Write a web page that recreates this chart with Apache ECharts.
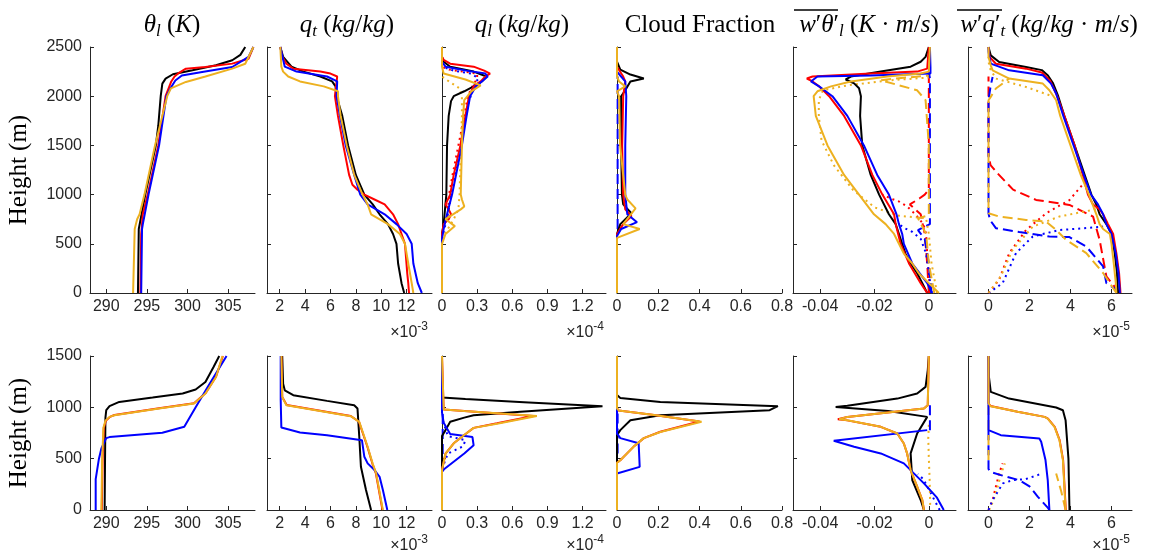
<!DOCTYPE html>
<html>
<head>
<meta charset="utf-8">
<title>LES profiles</title>
<script src="https://cdn.jsdelivr.net/npm/echarts@6/dist/echarts.min.js"></script>
<style>
  html, body { margin: 0; padding: 0; background: #fff; }
  #chart { width: 1155px; height: 556px; }
</style>
</head>
<body>
<div id="chart"></div>
<script>
// every curve is a list of [value, height (m)]

// ---- top row : theta_l ----
const thlTopBlack = [[293.9,0],[294.0,650],[294.8,1000],[296.1,1500],[296.4,1700],[296.7,2000],[296.9,2128],[297.3,2179],[298.2,2223],[300.6,2263],[303.5,2314],[305.5,2365],[306.5,2420],[307.1,2500]];
const thlTopRed = [[294.2,0],[294.3,600],[294.5,800],[295.1,1000],[296.4,1500],[297.3,2000],[298.0,2150],[298.4,2200],[299.0,2240],[299.8,2280],[302.2,2297],[305.5,2331],[307.5,2380],[308.1,2500]];
const thlTopBlue = [[294.3,0],[294.4,650],[294.5,700],[295.2,1000],[296.5,1500],[297.4,2000],[297.9,2080],[298.5,2160],[299.3,2210],[301.8,2246],[305.5,2297],[307.5,2400],[308.1,2500]];
const thlTopOrange = [[293.3,0],[293.5,650],[293.8,750],[294.1,800],[294.7,1000],[296.0,1500],[296.9,1800],[297.5,2000],[297.95,2080],[299.8,2145],[302.2,2200],[305.5,2280],[307.1,2330],[308.1,2500]];

// ---- top row : q_t (x 1e-3) ----
const qtTopBlack = [[11.81,0],[11.6,100],[11.33,300],[11.2,500],[10.93,600],[10.53,700],[9.87,800],[9.33,900],[8.67,1000],[8.0,1200],[7.39,1500],[6.93,1800],[6.48,2000],[6.4,2100],[6.13,2150],[5.2,2200],[3.87,2250],[2.93,2300],[2.27,2400],[2.05,2500]];
const qtTopRed = [[12.19,0],[12.13,100],[12.05,200],[11.87,500],[11.6,600],[11.33,700],[10.93,800],[10.27,900],[9.47,950],[8.67,1000],[8.13,1050],[7.73,1100],[7.47,1200],[7.01,1500],[6.59,1800],[6.35,2000],[6.53,2200],[6.0,2230],[5.2,2250],[3.07,2280],[2.53,2330],[2.21,2400],[2.05,2500]];
const qtTopBlue = [[13.2,0],[12.88,100],[12.53,300],[12.4,500],[12.0,600],[11.2,700],[10.27,800],[8.93,900],[8.35,1000],[7.87,1200],[7.2,1500],[6.75,1800],[6.48,2000],[6.53,2150],[5.73,2200],[3.33,2250],[2.4,2300],[2.05,2500]];
const qtTopOrange = [[12.53,0],[12.4,100],[12.13,300],[11.87,500],[11.47,600],[10.53,700],[9.2,800],[8.93,900],[8.53,1000],[7.87,1200],[7.28,1500],[6.8,1800],[6.59,2000],[6.59,2050],[5.47,2100],[3.6,2150],[2.67,2200],[2.27,2250],[2.13,2300],[2.05,2500]];

// ---- top row : q_l (x 1e-4) ----
const qlTopBlack = [[0,0],[0,600],[0.014,700],[0.037,1000],[0.043,1500],[0.057,1800],[0.077,1950],[0.1,2000],[0.19,2050],[0.27,2100],[0.34,2150],[0.38,2200],[0.27,2250],[0.07,2300],[0.014,2350],[0,2400],[0,2500]];
const qlTopRed = [[0,0],[0,600],[0.014,700],[0.057,750],[0.077,800],[0.057,850],[0.03,900],[0.07,1000],[0.1,1200],[0.157,1500],[0.2,1800],[0.23,2000],[0.27,2100],[0.33,2150],[0.37,2200],[0.41,2230],[0.36,2260],[0.27,2300],[0.07,2330],[0.014,2370],[0,2400],[0,2500]];
const qlTopBlue = [[0,0],[0,550],[0.014,650],[0.043,800],[0.086,1000],[0.12,1200],[0.17,1500],[0.21,1800],[0.24,2000],[0.29,2100],[0.34,2150],[0.39,2200],[0.37,2230],[0.21,2260],[0.03,2300],[0,2350],[0,2500]];
const qlTopOrange = [[0,0],[0,500],[0.03,600],[0.11,680],[0.03,750],[0.16,850],[0.19,880],[0.17,950],[0.16,1000],[0.17,1500],[0.18,1800],[0.19,1960],[0.25,2050],[0.33,2110],[0.2,2170],[0.014,2230],[0,2300],[0,2500]];
const qlTopRedDot = [[0,600],[0.02,700],[0.05,800],[0.06,1000],[0.09,1200],[0.14,1500],[0.19,1800],[0.22,2000],[0.26,2100],[0.3,2180],[0.3,2230],[0.18,2250],[0.06,2270],[0,2300]];
const qlTopBlueDot = [[0,550],[0.02,650],[0.05,800],[0.08,1000],[0.16,1500],[0.22,1900],[0.27,2100],[0.31,2180],[0.25,2230],[0.1,2260],[0,2300]];
const qlTopOrangeDot = [[0,550],[0.05,650],[0.1,750],[0.14,850],[0.15,1000],[0.16,1500],[0.17,1800],[0.17,2000],[0.15,2080],[0.06,2150],[0,2200]];

// ---- top row : cloud fraction ----
const cfTopBlack = [[0,0],[0,600],[0.016,700],[0.07,810],[0.03,900],[0.024,1000],[0.02,1500],[0.02,2000],[0.04,2060],[0.065,2150],[0.13,2180],[0.065,2220],[0.016,2270],[0,2350],[0,2500]];
const cfTopRed = [[0,0],[0,600],[0.03,700],[0.07,780],[0.04,850],[0.03,1000],[0.025,1500],[0.03,2000],[0.04,2150],[0.03,2200],[0,2300],[0,2500]];
const cfTopBlue = [[0,0],[0,580],[0.02,650],[0.097,720],[0.05,800],[0.04,1000],[0.04,1500],[0.045,2000],[0.04,2150],[0.02,2200],[0,2250],[0,2500]];
const cfTopOrange = [[0,0],[0,560],[0.11,650],[0.03,700],[0.09,860],[0.05,950],[0.04,1000],[0.015,1500],[0.01,2000],[0,2050],[0.04,2100],[0.01,2150],[0,2200],[0,2500]];
const cfTopBlueDash = [[0.003,650],[0.003,2200]];

// ---- top row : w'theta_l' ----
const wthTopBlack = [[-0.0006,0],[-0.0024,100],[-0.0043,200],[-0.0067,300],[-0.0086,400],[-0.0098,500],[-0.011,600],[-0.0122,700],[-0.0147,800],[-0.0183,1000],[-0.0214,1200],[-0.0245,1500],[-0.0253,1800],[-0.025,2000],[-0.0257,2080],[-0.0275,2130],[-0.0306,2170],[-0.0287,2200],[-0.0177,2250],[-0.0067,2300],[-0.003,2350],[-0.0012,2400],[0,2500]];
const wthTopRed = [[-0.0006,0],[-0.003,100],[-0.0073,300],[-0.0104,500],[-0.0122,700],[-0.0128,800],[-0.0171,1000],[-0.0208,1200],[-0.025,1500],[-0.0312,1800],[-0.0367,2000],[-0.0404,2100],[-0.0428,2150],[-0.0449,2180],[-0.0428,2200],[-0.0214,2230],[-0.0043,2250],[-0.0006,2280],[0,2500]];
const wthTopBlue = [[0.0012,0],[-0.0006,100],[-0.0061,300],[-0.0092,500],[-0.0098,600],[-0.011,700],[-0.0119,800],[-0.0147,1000],[-0.019,1200],[-0.0239,1500],[-0.03,1800],[-0.0355,2000],[-0.0404,2100],[-0.0434,2150],[-0.044,2170],[-0.041,2200],[-0.0214,2210],[0.0006,2230],[0.0006,2300],[0.0004,2500]];
const wthTopOrange = [[0.0037,0],[0,100],[-0.0037,200],[-0.0061,300],[-0.0092,400],[-0.011,500],[-0.0128,600],[-0.0159,700],[-0.0202,800],[-0.0257,1000],[-0.0312,1200],[-0.0373,1500],[-0.0416,1800],[-0.0424,2000],[-0.041,2050],[-0.036,2100],[-0.0287,2150],[-0.0153,2200],[-0.003,2230],[0,2250],[0.0004,2500]];
const wthTopRedDot = [[0.0005,0],[0,200],[-0.0006,400],[-0.001,600],[-0.002,700],[-0.005,800],[-0.008,880],[-0.011,930],[-0.014,960],[-0.017,1000]];
const wthTopRedDash = [[0,0],[-0.0006,300],[-0.0015,600],[-0.003,800],[-0.007,900],[-0.0035,960],[-0.0015,1000],[0,1050],[0,2230]];
const wthTopBlueDot = [[0.001,0],[0,200],[-0.001,400],[-0.003,550],[-0.006,620],[-0.009,660],[-0.011,700]];
const wthTopBlueDash = [[0.001,0],[0,300],[-0.0015,550],[-0.004,640],[0.0004,700],[0.0004,2180],[0,2250]];
const wthTopOrangeDot = [[0.003,0],[0.001,300],[0,600],[-0.001,760],[-0.011,785],[-0.02,870],[-0.028,1050],[-0.035,1300],[-0.0395,1550],[-0.0405,1800],[-0.0405,1960],[-0.039,2060],[-0.03,2110],[-0.015,2160],[0,2190]];
const wthTopOrangeDash = [[0.002,0],[0,300],[-0.001,600],[-0.004,760],[0,790],[0,1500],[-0.0012,1960],[-0.0043,2060],[-0.0177,2162],[-0.012,2180],[0,2210]];

// ---- top row : w'q_t' (x 1e-5) ----
const wqTopBlack = [[6.32,0],[6.27,200],[6.16,400],[6.0,600],[5.75,700],[5.42,800],[5.26,900],[5.02,1000],[4.69,1200],[4.2,1500],[3.7,1800],[3.4,2000],[3.15,2130],[2.9,2210],[2.6,2265],[1.83,2297],[0.52,2348],[0.11,2415],[0,2500]];
const wqTopRed = [[6.44,0],[6.37,200],[6.24,400],[6.08,600],[5.83,700],[5.59,800],[5.42,850],[5.1,900],[4.85,1000],[4.6,1200],[4.2,1500],[3.7,1800],[3.35,2000],[3.0,2160],[2.6,2240],[1.83,2280],[0.36,2330],[0.05,2400],[0,2500]];
const wqTopBlue = [[6.41,0],[6.34,200],[6.21,400],[6.0,600],[5.75,700],[5.59,800],[5.34,900],[5.0,1000],[4.65,1200],[4.15,1500],[3.65,1800],[3.3,2027],[3.05,2128],[2.65,2213],[1.01,2263],[0.11,2331],[0,2450],[0,2500]];
const wqTopOrange = [[6.24,0],[6.21,100],[6.11,300],[6.0,500],[5.92,600],[5.59,650],[5.42,700],[5.26,800],[4.9,1000],[4.5,1200],[4.0,1500],[3.5,1800],[3.3,1959],[2.97,2061],[2.65,2128],[1.01,2179],[0.2,2263],[0.11,2314],[0,2400],[0,2500]];
const wqTopRedDash = [[6.4,0],[5.75,169],[5.42,540],[5.1,777],[3.95,895],[2.32,946],[1.2,1050],[0.44,1216],[0.1,1300],[0,1400],[0,2200]];
const wqTopBlueDash = [[6.3,0],[6.24,34],[5.75,101],[5.59,270],[4.77,473],[3.95,568],[2.97,574],[1.5,620],[0.36,659],[0.07,743],[0,810],[0,1960],[0.1,2100],[0.2,2196]];
const wqTopOrangeDash = [[6.24,0],[5.59,203],[4.77,405],[3.79,540],[3.3,640],[2.81,726],[1.83,743],[0.52,777],[0,811],[0,1959],[0.11,1993],[0.36,2078],[1.01,2179]];
const wqTopRedDot = [[0,0],[0.52,135],[1.01,405],[1.83,640],[2.81,810],[3.95,945],[4.85,1165]];
const wqTopBlueDot = [[0,0],[0.69,100],[1.34,405],[2.16,575],[3.46,640],[4.77,660],[5.59,675]];
const wqTopOrangeDot = [[0,0],[0.6,170],[1.18,440],[2.16,675],[3.46,777],[5.1,845],[5.3,860]];
const wqTopOrangeDotUp = [[2.97,2010],[1.83,2094],[0.36,2179],[0.03,2297],[0,2400]];

// ---- bottom row : theta_l ----
const thlBotBlack = [[289.8,0],[289.85,500],[289.9,900],[290.0,972],[290.4,1011],[291.6,1053],[295.7,1095],[299.4,1134],[301.0,1173],[302.2,1247],[303.2,1393],[303.9,1500]];
const thlBotRed = [[289.45,0],[289.55,500],[289.7,800],[289.95,870],[290.45,907],[291.0,925],[296.5,990],[300.8,1039],[302.2,1136],[303.5,1298],[304.35,1500]];
const thlBotBlue = [[288.7,0],[288.7,300],[288.9,400],[289.1,500],[289.4,600],[289.7,650],[290.0,700],[290.4,710],[296.9,752],[299.6,810],[301.0,1000],[302.5,1200],[304.8,1500]];
const thlBotOrange = [[289.4,0],[289.5,500],[289.65,800],[289.9,870],[290.4,907],[291.0,923],[296.5,988],[300.8,1037],[302.2,1134],[303.5,1296],[304.3,1500]];

// ---- bottom row : q_t (x 1e-3) ----
const qtBotBlack = [[9.2,0],[8.8,194],[8.4,421],[8.27,713],[8.13,988],[7.87,1020],[5.73,1063],[3.07,1118],[2.4,1166],[2.27,1231],[2.2,1500]];
const qtBotRed = [[10.1,0],[9.58,356],[9.31,450],[8.91,616],[8.25,859],[7.6,916],[2.55,1023],[2.4,1040],[2.2,1100],[2.13,1500]];
const qtBotBlue = [[10.48,0],[10.13,194],[9.87,324],[9.47,389],[8.93,454],[8.67,518],[8.48,680],[8.4,697],[5.73,729],[3.6,755],[2.13,803],[2.08,1069],[2.08,1500]];
const qtBotOrange = [[10.13,0],[9.6,356],[9.33,450],[8.93,616],[8.27,859],[7.6,914],[2.53,1021],[2.4,1037],[2.2,1100],[2.13,1500]];

// ---- bottom row : q_l (x 1e-4) ----
const qlBotBlack = [[0,0],[0,720],[0.03,778],[0.07,859],[0.19,900],[0.27,923],[0.67,956],[1.37,1011],[0.7,1050],[0.2,1080],[0,1095],[0,1500]];
const qlBotRed = [[0,0],[0,390],[0.03,550],[0.1,650],[0.19,730],[0.27,800],[0.47,845],[0.78,915],[0.19,965],[0.014,980],[0,990],[0,1500]];
const qlBotBlue = [[0,0],[0,370],[0.02,400],[0.19,550],[0.27,630],[0.26,710],[0.07,740],[0.014,850],[0,950],[0,1500]];
const qlBotOrange = [[0,0],[0,390],[0.03,550],[0.1,650],[0.19,730],[0.27,800],[0.47,840],[0.81,915],[0.19,965],[0.014,980],[0,990],[0,1500]];
const qlBotBlueDot = [[0,400],[0.05,550],[0.18,620],[0.2,680],[0.05,720],[0,900]];
const qlBotBlueDash = [[0.006,400],[0.006,1000]];

// ---- bottom row : cloud fraction ----
const cfBotBlack = [[0,0],[0,729],[0.016,778],[0.065,875],[0.21,923],[0.74,972],[0.78,1011],[0.21,1053],[0.016,1092],[0,1120],[0,1500]];
const cfBotRed = [[0,0],[0,460],[0.016,485],[0.08,615],[0.13,700],[0.21,762],[0.4,862],[0.18,925],[0.008,970],[0,990],[0,1500]];
const cfBotBlue = [[0,0],[0,355],[0.008,370],[0.11,420],[0.105,650],[0.016,700],[0,745],[0,1500]];
const cfBotOrange = [[0,0],[0,460],[0.016,485],[0.08,615],[0.13,700],[0.21,760],[0.41,860],[0.18,925],[0.008,970],[0,990],[0,1500]];
const cfBotBlueDash = [[0.003,550],[0.003,970]];

// ---- bottom row : w'theta_l' ----
const wthBotBlack = [[-0.0018,0],[-0.003,97],[-0.0061,292],[-0.0067,551],[-0.0043,745],[-0.0006,907],[-0.0012,923],[-0.015,965],[-0.0343,1004],[-0.03,1015],[-0.0116,1085],[-0.0043,1134],[-0.0012,1199],[-0.0004,1361],[0,1500]];
const wthBotRed = [[-0.0018,0],[-0.0024,97],[-0.0043,227],[-0.0067,389],[-0.008,551],[-0.0092,648],[-0.0116,745],[-0.0177,810],[-0.03,873],[-0.0335,884],[-0.03,905],[-0.0018,988],[-0.0004,1021],[0,1500]];
const wthBotBlue = [[0.0055,0],[0.003,120],[-0.0018,259],[-0.0092,454],[-0.0177,551],[-0.0275,616],[-0.035,674],[-0.0006,778]];
const wthBotOrange = [[-0.0018,0],[-0.0024,97],[-0.0043,227],[-0.0067,389],[-0.008,551],[-0.0092,648],[-0.0116,745],[-0.0177,810],[-0.03,875],[-0.033,885],[-0.03,907],[-0.0018,988],[-0.0004,1021],[0,1500]];
const wthBotBlueDash = [[0.0004,778],[0.0004,1037]];
const wthBotBlueDot = [[0.004,0],[0.002,100],[0,200],[-0.002,300],[-0.004,350]];
const wthBotOrangeDot = [[0.0005,50],[0.0003,300],[0,500],[-0.0002,700],[0,830]];

// ---- bottom row : w'q_t' (x 1e-5) ----
const wqBotBlack = [[3.95,0],[3.9,500],[3.76,875],[3.63,972],[3.3,998],[1.0,1085],[0.11,1150],[0.02,1300],[0,1500]];
const wqBotRed = [[3.77,0],[3.64,486],[3.47,680],[3.23,810],[2.9,891],[2.74,907],[1.42,957],[0.1,1012],[0,1040],[0,1500]];
const wqBotBlue = [[2.97,0],[2.89,292],[2.78,486],[2.57,664],[2.48,697],[0.6,729],[0,778],[0,1500]];
const wqBotOrange = [[3.76,0],[3.63,486],[3.46,680],[3.22,810],[2.89,891],[2.73,907],[1.42,956],[0.1,1011],[0,1040],[0,1500]];
const wqBotBlueDash = [[2.97,0],[2.9,20],[2.4,130],[2.0,230],[1.5,290],[0.6,340],[0.1,370],[0,400],[0,780]];
const wqBotBlueDot = [[0,0],[0.2,97],[0.45,178],[0.7,259],[1.2,292],[1.8,300],[2.4,340],[2.6,360]];
const wqBotRedDot = [[0,0],[0.2,97],[0.36,227],[0.52,356],[0.69,454]];
const wqBotOrangeDot = [[0.03,0],[0.25,97],[0.45,227],[0.62,356],[0.8,454]];
const wqBotOrangeDash = [[3.76,0],[3.55,180],[3.3,356]];
const wqBotOrangeDash2 = [[0,486],[0,1040]];

// ---- axes ----
const xMins = [288, 1, 0, 0, -0.05, -1];
const xMaxs = [308.3, 14, 1.4, 0.8, 0.01, 7];
const xTicks = [[290,295,300,305],[2,4,6,8,10,12],[0,0.3,0.6,0.9,1.2],[0,0.2,0.4,0.6,0.8],[-0.04,-0.02,0],[0,2,4,6]];
const yMaxs = [2500, 1500];
const xExponents = ['', '-3', '-4', '', '', '-5'];

const K = '#000000', R = '#ff0000', B = '#0000ff', O = '#edb120';

// one entry per panel: [curve, colour, matlab line style]
const panels = [
  [[thlTopBlack,K,'-'],[thlTopRed,R,'-'],[thlTopBlue,B,'-'],[thlTopOrange,O,'-']],
  [[qtTopBlack,K,'-'],[qtTopRed,R,'-'],[qtTopBlue,B,'-'],[qtTopOrange,O,'-']],
  [[qlTopRedDot,R,':'],[qlTopBlueDot,B,':'],[qlTopOrangeDot,O,':'],
   [qlTopBlack,K,'-'],[qlTopRed,R,'-'],[qlTopBlue,B,'-'],[qlTopOrange,O,'-']],
  [[cfTopBlueDash,B,'--'],[cfTopBlack,K,'-'],[cfTopRed,R,'-'],[cfTopBlue,B,'-'],[cfTopOrange,O,'-']],
  [[wthTopRedDot,R,':'],[wthTopRedDash,R,'--'],[wthTopBlueDot,B,':'],[wthTopBlueDash,B,'--'],
   [wthTopOrangeDot,O,':'],[wthTopOrangeDash,O,'--'],
   [wthTopBlack,K,'-'],[wthTopRed,R,'-'],[wthTopBlue,B,'-'],[wthTopOrange,O,'-']],
  [[wqTopRedDot,R,':'],[wqTopRedDash,R,'--'],[wqTopBlueDot,B,':'],[wqTopBlueDash,B,'--'],
   [wqTopOrangeDot,O,':'],[wqTopOrangeDotUp,O,':'],[wqTopOrangeDash,O,'--'],
   [wqTopBlack,K,'-'],[wqTopRed,R,'-'],[wqTopBlue,B,'-'],[wqTopOrange,O,'-']],
  [[thlBotBlack,K,'-'],[thlBotRed,R,'-'],[thlBotBlue,B,'-'],[thlBotOrange,O,'-']],
  [[qtBotBlack,K,'-'],[qtBotRed,R,'-'],[qtBotBlue,B,'-'],[qtBotOrange,O,'-']],
  [[qlBotBlueDot,B,':'],[qlBotBlueDash,B,'--'],[qlBotBlack,K,'-'],[qlBotRed,R,'-'],[qlBotBlue,B,'-'],[qlBotOrange,O,'-']],
  [[cfBotBlueDash,B,'--'],[cfBotBlack,K,'-'],[cfBotRed,R,'-'],[cfBotBlue,B,'-'],[cfBotOrange,O,'-']],
  [[wthBotBlueDot,B,':'],[wthBotOrangeDot,O,':'],[wthBotBlueDash,B,'--'],
   [wthBotBlack,K,'-'],[wthBotRed,R,'-'],[wthBotBlue,B,'-'],[wthBotOrange,O,'-']],
  [[wqBotRedDot,R,':'],[wqBotOrangeDot,O,':'],[wqBotBlueDot,B,':'],[wqBotBlueDash,B,'--'],
   [wqBotOrangeDash,O,'--'],[wqBotOrangeDash2,O,'--'],
   [wqBotBlack,K,'-'],[wqBotRed,R,'-'],[wqBotBlue,B,'-'],[wqBotOrange,O,'-']]
];

const chart = echarts.init(document.getElementById('chart'));

const colLeft = [90, 267, 442, 617, 793, 968];
const colWidth = [165, 165, 164, 165, 163, 164];
const rowTop = [47, 356];
const rowHeight = [246, 154];
const axisColor = '#262626';
const sansFont = 'Liberation Sans';
const serifFont = 'Liberation Serif';

const grids = [], xAxes = [], yAxes = [], series = [];
for (let idx = 0; idx < 12; idx++) {
  const row = Math.floor(idx / 6), col = idx % 6;
  grids.push({ left: colLeft[col], top: rowTop[row], width: colWidth[col], height: rowHeight[row], outerBoundsMode: 'none' });
  xAxes.push({
    type: 'value', gridIndex: idx, min: xMins[col], max: xMaxs[col],
    axisLine: { show: true, onZero: false, lineStyle: { color: axisColor, width: 1 } },
    axisTick: { show: true, inside: true, length: 4, customValues: xTicks[col], lineStyle: { color: axisColor } },
    axisLabel: { customValues: xTicks[col], color: axisColor, fontSize: 16, fontFamily: sansFont, margin: 6,
      formatter: v => String(v) },
    splitLine: { show: false }
  });
  yAxes.push({
    type: 'value', gridIndex: idx, min: 0, max: yMaxs[row], interval: 500,
    axisLine: { show: true, onZero: false, lineStyle: { color: axisColor, width: 1 } },
    axisTick: { show: true, inside: true, length: 4, lineStyle: { color: axisColor } },
    axisLabel: { show: col === 0, color: axisColor, fontSize: 16, fontFamily: sansFont, margin: 8,
      formatter: v => String(v) },
    splitLine: { show: false },
    name: col === 0 ? 'Height (m)' : '',
    nameLocation: 'middle', nameGap: 58, nameRotate: 90,
    nameTextStyle: { fontFamily: serifFont, fontSize: 25, color: '#000' }
  });
  panels[idx].forEach(([data, color, ls]) => {
    series.push({
      type: 'line', xAxisIndex: idx, yAxisIndex: idx, data: data,
      showSymbol: false, symbol: 'none', silent: true, animation: false,
      z: ls === '-' ? 3 : 2,
      lineStyle: { color: color, width: 2, type: ls === ':' ? [2, 4] : ls === '--' ? [10, 5] : 'solid' },
      itemStyle: { color: color }
    });
  });
}

// panel titles (math style)
const rich = {
  n: { fontFamily: serifFont, fontSize: 25, fontWeight: 'normal', color: '#000', lineHeight: 29 },
  i: { fontFamily: serifFont, fontSize: 25, fontWeight: 'normal', fontStyle: 'italic', color: '#000', lineHeight: 29 },
  s: { fontFamily: serifFont, fontSize: 17, fontWeight: 'normal', fontStyle: 'italic', color: '#000', lineHeight: 17, verticalAlign: 'bottom' }
};
const titleTexts = [
  '{i|θ}{s|l}{n| (}{i|K}{n|)}',
  '{i|q}{s|t}{n| (}{i|kg}{n|/}{i|kg}{n|)}',
  '{i|q}{s|l}{n| (}{i|kg}{n|/}{i|kg}{n|)}',
  '{n|Cloud Fraction}',
  '{i|w}{n|′}{i|θ}{n|′}{s|l}{n| (}{i|K}{n| · }{i|m}{n|/}{i|s}{n|)}',
  '{i|w}{n|′}{i|q}{n|′}{s|t}{n| (}{i|kg}{n|/}{i|kg}{n| · }{i|m}{n|/}{i|s}{n|)}'
];
const titleCenters = [172, 347, 522, 700, 869, 1049];
const titles = titleTexts.map((t, c) => ({
  text: t, left: titleCenters[c], top: 11, textAlign: 'center', padding: 0,
  textStyle: { fontWeight: 'normal', rich: rich }
}));

// x10^n exponent labels under the axes
const expRight = [0, 428, 604, 0, 0, 1130];
[0, 1].forEach(row => {
  xExponents.forEach((e, c) => {
    if (!e) return;
    titles.push({
      text: '{b|×10}{p|' + e + '}', left: expRight[c], top: row === 0 ? 321 : 534,
      textAlign: 'right', padding: 0,
      textStyle: { fontWeight: 'normal', rich: {
        b: { fontFamily: sansFont, fontSize: 16, fontWeight: 'normal', color: axisColor, lineHeight: 20, verticalAlign: 'bottom' },
        p: { fontFamily: sansFont, fontSize: 12, fontWeight: 'normal', color: axisColor, lineHeight: 20, verticalAlign: 'top' }
      } }
    });
  });
});

chart.setOption({
  backgroundColor: '#fff',
  animation: false,
  title: titles,
  grid: grids,
  xAxis: xAxes,
  yAxis: yAxes,
  series: series,
  graphic: [
    { type: 'line', shape: { x1: 794, y1: 10, x2: 838, y2: 10 }, style: { stroke: '#000', lineWidth: 1.5 } },
    { type: 'line', shape: { x1: 957, y1: 10, x2: 1002, y2: 10 }, style: { stroke: '#000', lineWidth: 1.5 } }
  ]
});
</script>
</body>
</html>
